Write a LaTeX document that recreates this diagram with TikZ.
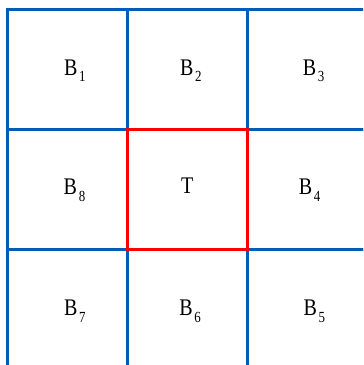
\documentclass[tikz,border=0pt]{standalone}
\usepackage{fontspec}
\setmainfont{Liberation Serif}
\definecolor{gridblue}{RGB}{0,92,185}
\definecolor{targetred}{RGB}{255,0,0}
\newcommand{\blk}[1]{\scalebox{0.84}[1]{B\kern1.5pt\raisebox{-4.5pt}{\fontsize{11}{12}\selectfont #1}}}
\tikzset{
  cell/.style={draw=gridblue,line width=2.1pt},
  target/.style={draw=targetred,line width=2.1pt},
  lbl/.style={font=\fontsize{17}{19}\selectfont,anchor=base,inner sep=0pt}
}
\begin{document}
\begin{tikzpicture}[x=1cm,y=1cm]
\useasboundingbox (-0.2,-8.91) rectangle (8.91,0.25);
\clip (-0.2,-8.91) rectangle (8.91,0.25);

% neighbourhood grid
\foreach \i in {0,1,2}
  \foreach \j in {0,1,2}
    \draw[cell] (3*\i,-3*\j) rectangle (3*\i+3,-3*\j-3);

% centre cell
\draw[target] (3,-3) rectangle (6,-6);

\node[lbl] (b1) at (1.68,-1.64) {\blk{1}};
\node[lbl] (b2) at (4.59,-1.64) {\blk{2}};
\node[lbl] (b3) at (7.67,-1.64) {\blk{3}};

\node[lbl] (b8) at (1.67,-4.64) {\blk{8}};
\node[lbl] (t)  at (4.5,-4.6)   {\scalebox{0.84}[1]{T}};
\node[lbl] (b4) at (7.57,-4.64) {\blk{4}};

\node[lbl] (b7) at (1.68,-7.68) {\blk{7}};
\node[lbl] (b6) at (4.57,-7.68) {\blk{6}};
\node[lbl] (b5) at (7.69,-7.68) {\blk{5}};
\end{tikzpicture}
\end{document}
